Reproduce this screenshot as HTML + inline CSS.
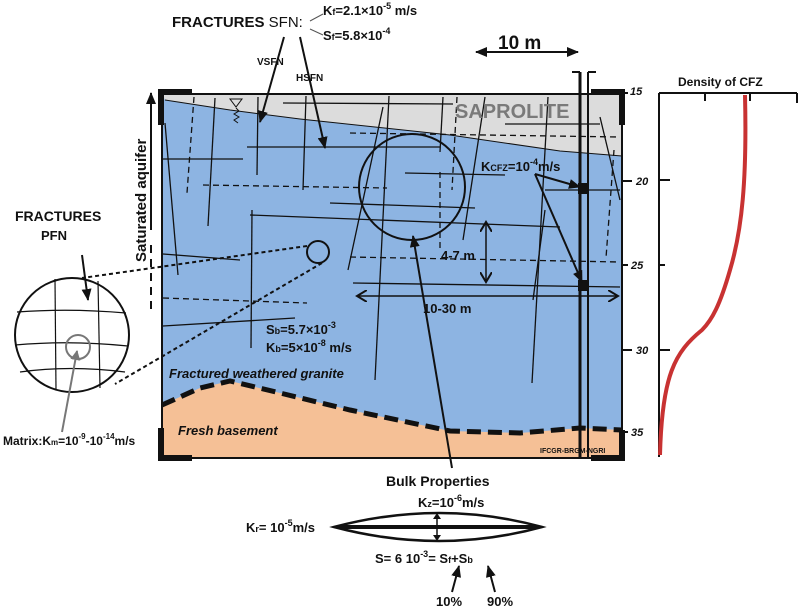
<!DOCTYPE html>
<html><head><meta charset="utf-8"><style>
html,body{margin:0;padding:0;background:#fff;}
svg{display:block;}
text{font-family:"Liberation Sans",Arial,sans-serif;font-weight:bold;fill:#111;}
</style></head><body>
<svg width="800" height="610" viewBox="0 0 800 610" xmlns="http://www.w3.org/2000/svg">
<defs>
<marker id="ah" markerWidth="12" markerHeight="10" refX="11" refY="5" orient="auto" markerUnits="userSpaceOnUse"><path d="M0,0 L12,5 L0,10 z" fill="#111"/></marker>
<marker id="ahs" markerWidth="12" markerHeight="10" refX="1" refY="5" orient="auto" markerUnits="userSpaceOnUse"><path d="M12,0 L0,5 L12,10 z" fill="#111"/></marker>
<marker id="oa" markerWidth="12" markerHeight="12" refX="10" refY="6" orient="auto" markerUnits="userSpaceOnUse"><path d="M0,0 L10,6 L0,12" fill="none" stroke="#111" stroke-width="2"/></marker>
<marker id="oas" markerWidth="12" markerHeight="12" refX="2" refY="6" orient="auto" markerUnits="userSpaceOnUse"><path d="M12,0 L2,6 L12,12" fill="none" stroke="#111" stroke-width="2"/></marker>
<marker id="ga" markerWidth="10" markerHeight="10" refX="9" refY="5" orient="auto" markerUnits="userSpaceOnUse"><path d="M0,0 L10,5 L0,10 z" fill="#777"/></marker>
</defs>
<rect x="162" y="94" width="460" height="364" fill="#8db4e2"/>
<polygon points="162,94 622,94 622,156 560,151 450,135 300,119 230,110 165,100" fill="#dcdcdc"/>
<path d="M165,100 L230,110 L300,119 L450,135 L560,151 L622,156" fill="none" stroke="#111" stroke-width="1"/>
<polygon points="162,405 200,388 230,381 280,393 350,410 450,431 520,433 580,428 622,430 622,458 162,458" fill="#f5c096"/>
<path d="M162,405 L200,388 L230,381 L280,393 L350,410 L450,431 L520,433 L580,428 L622,430" fill="none" stroke="#111" stroke-width="5" stroke-dasharray="14,7"/>
<rect x="162" y="94" width="460" height="364" fill="none" stroke="#111" stroke-width="2"/>
<path d="M161,125 V92 H192" fill="none" stroke="#111" stroke-width="6"/>
<path d="M161,428 V458 H192" fill="none" stroke="#111" stroke-width="6"/>
<path d="M591,92 H622 V125" fill="none" stroke="#111" stroke-width="6"/>
<path d="M591,458 H622 V430" fill="none" stroke="#111" stroke-width="6"/>
<g stroke="#111" stroke-width="1.3" fill="none">
<line x1="165" y1="123" x2="178" y2="275"/>
<line x1="215" y1="98" x2="208" y2="226"/>
<line x1="258" y1="97" x2="257" y2="175"/>
<line x1="306" y1="96" x2="303" y2="190"/>
<line x1="383" y1="107" x2="348" y2="270"/>
<line x1="389" y1="96" x2="375" y2="380"/>
<line x1="443" y1="97" x2="440" y2="152"/>
<line x1="485" y1="97" x2="463" y2="240"/>
<line x1="548" y1="97" x2="532" y2="383"/>
<line x1="545" y1="210" x2="533" y2="300"/>
<line x1="600" y1="117" x2="620" y2="200"/>
<line x1="252" y1="210" x2="251" y2="348"/>
<line x1="247" y1="147" x2="440" y2="147"/>
<line x1="163" y1="159" x2="243" y2="159"/>
<line x1="283" y1="103" x2="453" y2="104"/>
<line x1="505" y1="124" x2="600" y2="124"/>
<line x1="330" y1="203" x2="475" y2="208"/>
<line x1="250" y1="215" x2="560" y2="227"/>
<line x1="405" y1="173" x2="505" y2="175"/>
<line x1="545" y1="190" x2="620" y2="190"/>
<line x1="163" y1="254" x2="240" y2="260"/>
<line x1="163" y1="326" x2="295" y2="318"/>
<line x1="353" y1="283" x2="620" y2="287"/>
</g>
<g stroke="#111" stroke-width="1.3" fill="none" stroke-dasharray="6,4">
<line x1="194" y1="97" x2="187" y2="193"/>
<line x1="457" y1="97" x2="452" y2="190"/>
<line x1="203" y1="185" x2="387" y2="188"/>
<line x1="350" y1="133" x2="620" y2="137"/>
<line x1="350" y1="257" x2="620" y2="262"/>
<line x1="163" y1="298" x2="307" y2="303"/>
<line x1="614" y1="150" x2="606" y2="258"/>
<line x1="440" y1="172" x2="440" y2="250"/>
</g>
<path d="M230,99 L242,99 L236,107 z" fill="none" stroke="#111" stroke-width="1"/>
<path d="M236,108 l3,3 l-5,3 l5,3 l-5,3 l4,3" fill="none" stroke="#111" stroke-width="1"/>
<circle cx="412" cy="187" r="53" fill="none" stroke="#111" stroke-width="2"/>
<circle cx="318" cy="252" r="11" fill="none" stroke="#111" stroke-width="2"/>
<g stroke="#111" stroke-width="2" stroke-dasharray="4,3" fill="none">
<line x1="307" y1="246" x2="82" y2="278"/>
<line x1="322" y1="263" x2="115" y2="384"/>
</g>
<line x1="580" y1="72" x2="580" y2="458" stroke="#111" stroke-width="3"/>
<line x1="588" y1="72" x2="588" y2="458" stroke="#111" stroke-width="2"/>
<line x1="572" y1="72" x2="580" y2="72" stroke="#111" stroke-width="2"/>
<line x1="588" y1="72" x2="596" y2="72" stroke="#111" stroke-width="2"/>
<rect x="578" y="183" width="10" height="11" fill="#111"/>
<rect x="578" y="280" width="10" height="11" fill="#111"/>
<line x1="535" y1="174" x2="580" y2="187" stroke="#111" stroke-width="2" marker-end="url(#ah)"/>
<line x1="535" y1="174" x2="582" y2="282" stroke="#111" stroke-width="2" marker-end="url(#ah)"/>
<line x1="486" y1="222" x2="486" y2="282" stroke="#111" stroke-width="1.5" marker-start="url(#oas)" marker-end="url(#oa)"/>
<line x1="357" y1="296" x2="618" y2="296" stroke="#111" stroke-width="1.5" marker-start="url(#oas)" marker-end="url(#oa)"/>
<line x1="476" y1="52" x2="578" y2="52" stroke="#111" stroke-width="2" marker-start="url(#ahs)" marker-end="url(#ah)"/>
<line x1="284" y1="37" x2="260" y2="122" stroke="#111" stroke-width="2" marker-end="url(#ah)"/>
<line x1="300" y1="37" x2="325" y2="148" stroke="#111" stroke-width="2" marker-end="url(#ah)"/>
<line x1="310" y1="21" x2="323" y2="14" stroke="#555" stroke-width="1"/>
<line x1="310" y1="29" x2="323" y2="35" stroke="#555" stroke-width="1"/>
<line x1="452" y1="468" x2="413" y2="236" stroke="#111" stroke-width="2" marker-end="url(#ah)"/>
<line x1="151" y1="230" x2="151" y2="93" stroke="#111" stroke-width="2" marker-end="url(#ah)"/>
<line x1="151" y1="245" x2="151" y2="315" stroke="#111" stroke-width="2" stroke-dasharray="8,6"/>
<circle cx="72" cy="335" r="57" fill="#fff" stroke="#111" stroke-width="2"/>
<g stroke="#111" stroke-width="1.2" fill="none">
<path d="M55,279 L56,390"/><path d="M98,281 L100,388"/>
<path d="M17,312 Q70,308 126,313"/><path d="M15,345 Q70,340 128,346"/><path d="M20,372 Q70,365 125,372"/>
</g>
<circle cx="78" cy="347" r="12" fill="none" stroke="#777" stroke-width="2"/>
<line x1="82" y1="255" x2="88" y2="300" stroke="#111" stroke-width="2" marker-end="url(#ah)"/>
<line x1="62" y1="432" x2="77" y2="351" stroke="#777" stroke-width="2" marker-end="url(#ga)"/>
<path d="M334,527 Q440,499 542,527 Q440,555 334,527 z" fill="#fff" stroke="#111" stroke-width="2.5"/>
<line x1="337" y1="527" x2="538" y2="527" stroke="#111" stroke-width="4"/>
<line x1="437" y1="516" x2="437" y2="538" stroke="#111" stroke-width="1.5"/>
<path d="M433,519 L437,513 L441,519 z M433,535 L437,541 L441,535 z" fill="#111"/>
<line x1="452" y1="592" x2="459" y2="566" stroke="#111" stroke-width="2" marker-end="url(#ah)"/>
<line x1="495" y1="592" x2="488" y2="566" stroke="#111" stroke-width="2" marker-end="url(#ah)"/>
<g stroke="#111" stroke-width="2" fill="none">
<line x1="659" y1="93" x2="659" y2="457"/>
<line x1="659" y1="93" x2="797" y2="93"/>
<line x1="705" y1="93" x2="705" y2="101"/><line x1="750" y1="93" x2="750" y2="101"/><line x1="797" y1="93" x2="797" y2="103"/>
<line x1="659" y1="180" x2="670" y2="180"/><line x1="659" y1="265" x2="665" y2="265"/><line x1="659" y1="350" x2="670" y2="350"/>
<line x1="622" y1="93" x2="628" y2="93"/><line x1="622" y1="181" x2="632" y2="181"/><line x1="622" y1="265" x2="628" y2="265"/><line x1="622" y1="350" x2="632" y2="350"/><line x1="622" y1="432" x2="628" y2="432"/>
</g>
<path d="M745,95 C747,180 742,230 730,270 C720,305 712,320 702,330 C675,352 662,375 660,455" fill="none" stroke="#c83232" stroke-width="4"/>
<text x="172" y="27" font-size="15">FRACTURES <tspan font-weight="normal">SFN:</tspan></text>
<text x="323" y="15" font-size="13">K<tspan font-size="9">f</tspan>=2.1×10<tspan font-size="9" dy="-6">-5</tspan><tspan dy="6"> m/s</tspan></text>
<text x="323" y="40" font-size="13">S<tspan font-size="9">f</tspan>=5.8×10<tspan font-size="9" dy="-6">-4</tspan></text>
<text x="257" y="65" font-size="10">VSFN</text>
<text x="296" y="81" font-size="10">HSFN</text>
<text x="498" y="49" font-size="19">10 m</text>
<text x="455" y="118" font-size="20" style="fill:#7a7a7a">SAPROLITE</text>
<text x="481" y="171" font-size="13">K<tspan font-size="9">CFZ</tspan>=10<tspan font-size="9" dy="-6">-4</tspan><tspan dy="6">m/s</tspan></text>
<text x="441" y="260" font-size="13">4-7 m</text>
<text x="423" y="313" font-size="13">10-30 m</text>
<text x="266" y="334" font-size="13">S<tspan font-size="9">b</tspan>=5.7×10<tspan font-size="9" dy="-6">-3</tspan></text>
<text x="266" y="352" font-size="13">K<tspan font-size="9">b</tspan>=5×10<tspan font-size="9" dy="-6">-8</tspan><tspan dy="6"> m/s</tspan></text>
<text x="169" y="378" font-size="13" font-style="italic">Fractured weathered granite</text>
<text x="178" y="435" font-size="13" font-style="italic">Fresh basement</text>
<text x="540" y="453" font-size="7" font-weight="normal">IFCGR-BRGM-NGRI</text>
<text x="146" y="262" font-size="15" transform="rotate(-90 146 262)">Saturated aquifer</text>
<text x="15" y="221" font-size="14">FRACTURES</text>
<text x="41" y="240" font-size="13" font-weight="normal">PFN</text>
<text x="3" y="445" font-size="12" font-weight="normal">Matrix:K<tspan font-size="8">m</tspan>=10<tspan font-size="8" dy="-6">-9</tspan><tspan dy="6">-10</tspan><tspan font-size="8" dy="-6">-14</tspan><tspan dy="6">m/s</tspan></text>
<text x="386" y="486" font-size="14" font-weight="normal">Bulk Properties</text>
<text x="418" y="507" font-size="13">K<tspan font-size="9">z</tspan>=10<tspan font-size="9" dy="-6">-6</tspan><tspan dy="6">m/s</tspan></text>
<text x="246" y="532" font-size="13">K<tspan font-size="9">r</tspan>= 10<tspan font-size="9" dy="-6">-5</tspan><tspan dy="6">m/s</tspan></text>
<text x="375" y="563" font-size="13">S= 6 10<tspan font-size="9" dy="-6">-3</tspan><tspan dy="6">= S</tspan><tspan font-size="9">f</tspan>+S<tspan font-size="9">b</tspan></text>
<text x="436" y="606" font-size="13">10%</text>
<text x="487" y="606" font-size="13">90%</text>
<text x="678" y="86" font-size="12">Density of CFZ</text>
<g font-size="11" font-style="italic" font-weight="normal">
<text x="630" y="95">15</text><text x="636" y="185">20</text><text x="631" y="269">25</text><text x="636" y="354">30</text><text x="631" y="436">35</text>
</g>
</svg>
</body></html>
